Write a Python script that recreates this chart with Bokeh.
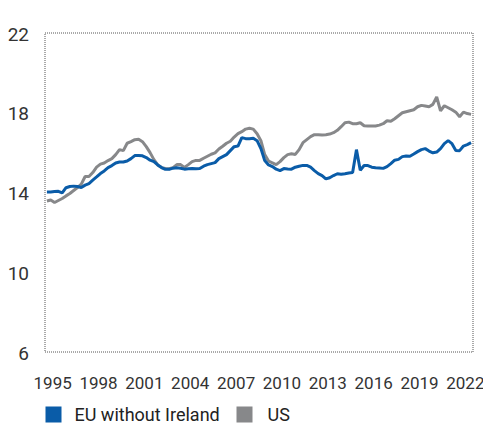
from bokeh.plotting import figure
from bokeh.models import Range1d, ColumnDataSource
from bokeh.core.properties import value
from bokeh.embed import file_html
from bokeh.resources import INLINE

FONT = "Roboto"

years = list(range(1995, 2023))
x_tick_labels = ["1995", "1998", "2001", "2004", "2007", "2010", "2013", "2016", "2019", "2022"]
y_ticks = [6, 10, 14, 18, 22]

eu = [14.03, 14.03, 14.05, 14.06, 13.98, 14.24, 14.30, 14.32, 14.30, 14.25, 14.37, 14.45,
      14.62, 14.78, 14.95, 15.08, 15.25, 15.35, 15.48, 15.53, 15.53, 15.58, 15.70, 15.85,
      15.86, 15.84, 15.75, 15.62, 15.55, 15.38, 15.25, 15.16, 15.16, 15.22, 15.24, 15.22,
      15.17, 15.19, 15.20, 15.19, 15.20, 15.32, 15.40, 15.45, 15.50, 15.70, 15.80, 15.90,
      16.10, 16.30, 16.33, 16.75, 16.70, 16.70, 16.72, 16.60, 16.20, 15.60, 15.38, 15.30,
      15.17, 15.10, 15.20, 15.18, 15.17, 15.27, 15.32, 15.36, 15.36, 15.27, 15.10, 14.95,
      14.85, 14.68, 14.74, 14.85, 14.94, 14.91, 14.94, 14.98, 15.00, 16.15, 15.12, 15.35,
      15.35, 15.27, 15.24, 15.23, 15.21, 15.30, 15.45, 15.62, 15.66, 15.80, 15.83, 15.82,
      15.93, 16.05, 16.15, 16.20, 16.08, 15.99, 16.03, 16.20, 16.45, 16.60, 16.45, 16.11,
      16.10, 16.33, 16.40, 16.50]

us = [13.57, 13.62, 13.50, 13.60, 13.70, 13.83, 13.95, 14.10, 14.25, 14.42, 14.80, 14.80,
      15.00, 15.27, 15.42, 15.48, 15.60, 15.70, 15.90, 16.15, 16.10, 16.47, 16.55, 16.65,
      16.67, 16.55, 16.30, 16.00, 15.65, 15.38, 15.25, 15.20, 15.19, 15.25, 15.40, 15.40,
      15.26, 15.40, 15.55, 15.61, 15.61, 15.72, 15.82, 15.92, 15.99, 16.18, 16.32, 16.47,
      16.57, 16.78, 16.95, 17.05, 17.18, 17.22, 17.18, 16.95, 16.60, 15.90, 15.58, 15.49,
      15.40, 15.55, 15.75, 15.90, 15.94, 15.91, 16.15, 16.50, 16.65, 16.80, 16.90, 16.90,
      16.88, 16.90, 16.93, 17.00, 17.12, 17.30, 17.50, 17.53, 17.45, 17.45, 17.50, 17.35,
      17.33, 17.33, 17.34, 17.38, 17.45, 17.60, 17.57, 17.70, 17.85, 18.00, 18.05, 18.10,
      18.15, 18.30, 18.37, 18.34, 18.30, 18.42, 18.79, 18.10, 18.35, 18.25, 18.15, 18.03,
      17.80, 18.03, 17.96, 17.92]

series_names = ["EU without Ireland", "US"]
series_colors = ["#0a5ca8", "#87888a"]

# time axis: quarterly points
t = [y + (q - 0.5) / 4 for y in years for q in range(1, 5)]

# ---- layout (pixels) ----
W, H = 483, 427
box_l, box_r, box_t, box_b = 44.5, 472.5, 32.5, 351.5     # dotted plot box
legend_key_left = [45, 236]                                 # legend squares (left edge)
legend_text_left = [74, 267]
legend_mid = 414
key_size = 16

x0, x1 = years[0], years[-1] + 1
y0, y1 = y_ticks[0], y_ticks[-1]
sx = (x1 - x0) / (box_r - box_l)
sy = (y1 - y0) / (box_b - box_t)
xr = Range1d(x0 - box_l * sx, x1 + (W - box_r) * sx)
yr = Range1d(y0 - (H - box_b) * sy, y1 + box_t * sy)


def px2x(px):
    return xr.start + px * sx


def py2y(py):
    return yr.end - py * sy


p = figure(width=W, height=H, output_backend="svg", toolbar_location=None,
           x_range=xr, y_range=yr, x_axis_type=None, y_axis_type=None, min_border=0)
p.outline_line_color = None
p.background_fill_color = "white"
p.border_fill_color = "white"
p.xgrid.visible = False
p.ygrid.visible = False

# dotted frame
p.line(x=[x0, x1, x1, x0, x0], y=[y0, y0, y1, y1, y0], line_color="#555555",
       line_width=1, line_dash="1 1")

# y tick labels (baseline sits on the tick value)
p.text(x=[x0] * len(y_ticks), y=y_ticks, text=[str(v) for v in y_ticks],
       x_offset=-16, y_offset=1, text_align="right", text_baseline="alphabetic",
       text_font=value(FONT), text_font_size="19px", text_color="#333333")

# x tick labels (centred on each labelled year)
p.text(x=[int(s) + 0.5 for s in x_tick_labels], y=[y0] * len(x_tick_labels),
       text=x_tick_labels, y_offset=31, text_align="center", text_baseline="alphabetic",
       text_font=value(FONT), text_font_size="17px", text_color="#333333")

src = ColumnDataSource(dict(t=t, eu=eu, us=us))
p.line("t", "us", source=src, line_color=series_colors[1], line_width=3)
p.line("t", "eu", source=src, line_color=series_colors[0], line_width=3)

# legend
p.scatter(x=[px2x(k + key_size / 2) for k in legend_key_left],
          y=[py2y(legend_mid)] * len(series_names), marker="square", size=key_size,
          fill_color=series_colors, line_color=None)
p.text(x=[px2x(k) for k in legend_text_left], y=[py2y(legend_mid)] * len(series_names),
       text=series_names, text_align="left", text_baseline="middle",
       text_font=value(FONT), text_font_size="18px", text_color="#222222")

open("out.html", "w").write(file_html(p, INLINE))
